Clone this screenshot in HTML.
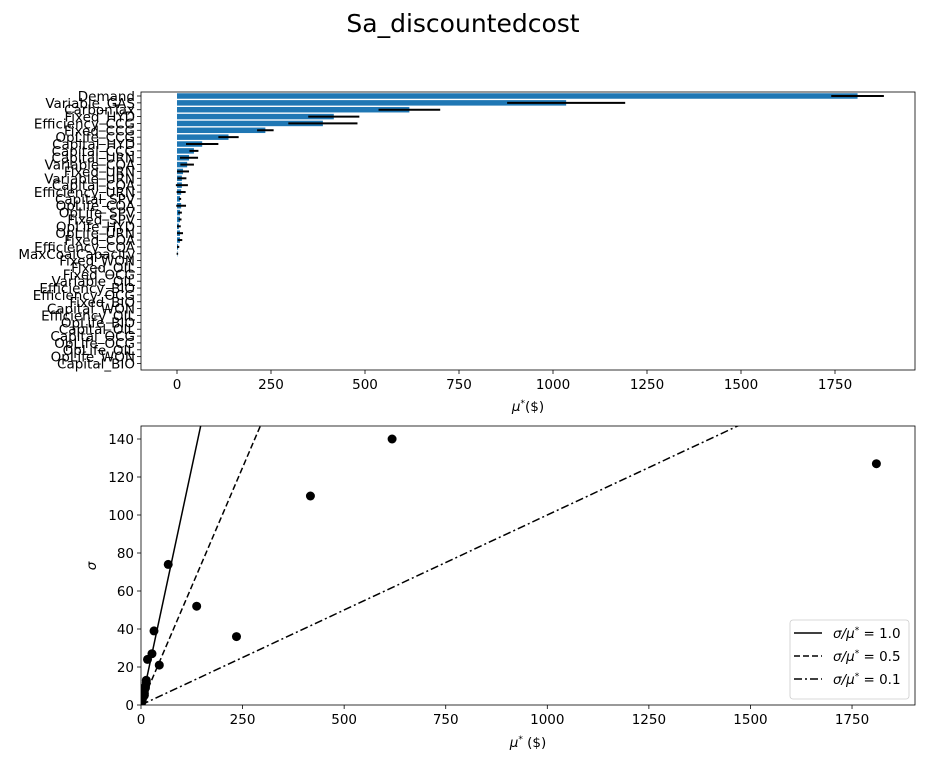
<!DOCTYPE html>
<html><head><meta charset="utf-8"><style>
body{margin:0;background:#fff}
svg{display:block;font-family:"DejaVu Sans","Liberation Sans",sans-serif}
</style></head><body>
<svg id="c" width="925" height="763" xmlns="http://www.w3.org/2000/svg">
<text x="463" y="32" font-size="25" text-anchor="middle" fill="#000">Sa_discountedcost</text>
<g id="top"></g>
<g id="bot"></g>
</svg>
<script>
const params=["Demand","Variable_GAS","CarbonTax","Fixed_HYD","Efficiency_CCG","Fixed_CCG","OpLife_CCG","Capital_HYD","Capital_CCG","Capital_URN","Variable_COA","Fixed_URN","Variable_URN","Capital_COA","Efficiency_URN","Capital_SPV","OpLife_COA","OpLife_SPV","Fixed_SPV","OpLife_HYD","OpLife_URN","Fixed_COA","Efficiency_COA","MaxCoalCapacity","Fixed_WON","Fixed_OIL","Fixed_OCG","Variable_OIL","Efficiency_BIO","Efficiency_OCG","Fixed_BIO","Capital_WON","Efficiency_OIL","OpLife_BIO","Capital_OIL","Capital_OCG","OpLife_OCG","OpLife_OIL","OpLife_WON","Capital_BIO"];
const muStar=[1810,1035,618,417,388,235,137,67,45,32,27,16,13,13,11,8,11,8,8,5,8,8,3,1,0,0,0,0,0,0,0,0,0,0,0,0,0,0,0,0];
const muConf=[70,157,82,68,92,22,27,43,12,24,18,16,12,16,12,3,13,5,4,5,8,6,3,2,0,0,0,0,0,0,0,0,0,0,0,0,0,0,0,0];
const sigma=[127,250,140,110,200,36,52,74,21,39,27,24,13,12,10,6,9,7,5,4,6,5,2,1,0,0,0,0,0,0,0,0,0,0,0,0,0,0,0,0];
const xTicksTop=[0,250,500,750,1000,1250,1500,1750];
const xTicksBot=[0,250,500,750,1000,1250,1500,1750];
const yTicksBot=[0,20,40,60,80,100,120,140];
const ratios=[1.0,0.5,0.1];
const ratioDash=["","6,3","8,3,2,3"];

const NS="http://www.w3.org/2000/svg";
function mk(p,t,a){const e=document.createElementNS(NS,t);for(const k in a)e.setAttribute(k,a[k]);p.appendChild(e);return e;}
const FS=13.5;

// top chart
const T=document.getElementById('top');
const tL=141,tR=915,tT=92,tB=370;
const txs=v=>177+v*0.376;
const step=(363.5-96)/(params.length-1);
const ty=i=>96+i*step;
params.forEach((p,i)=>{
  const b=mk(T,'rect',{x:txs(0),y:ty(i)-step*0.4,width:Math.max(0,txs(muStar[i])-txs(0)),height:step*0.8,fill:'#1f77b4'});
  
  
  if(muConf[i]>0){
    const e=mk(T,'line',{x1:txs(muStar[i]-muConf[i]),x2:txs(muStar[i]+muConf[i]),y1:ty(i),y2:ty(i),stroke:'#000','stroke-width':2});
    
    
  }
  mk(T,'line',{x1:tL-4,x2:tL,y1:ty(i),y2:ty(i),stroke:'#000','stroke-width':0.8});
  const l=mk(T,'text',{x:tL-6,y:ty(i)+5,'font-size':FS,'text-anchor':'end',fill:'#000'});
  l.textContent=p;
  
  
});
xTicksTop.forEach(v=>{
  mk(T,'line',{x1:txs(v),x2:txs(v),y1:tB,y2:tB+4,stroke:'#000','stroke-width':0.8});
  const l=mk(T,'text',{x:txs(v),y:tB+19,'font-size':FS,'text-anchor':'middle',fill:'#000'});
  l.textContent=v;
  
  
});
mk(T,'rect',{x:tL,y:tT,width:tR-tL,height:tB-tT,fill:'none',stroke:'#000','stroke-width':0.8});
const tx1=mk(T,'text',{x:528,y:411,'font-size':FS,'text-anchor':'middle',fill:'#000'});
tx1.innerHTML='<tspan font-style="italic">μ</tspan><tspan dy="-5" font-size="9">*</tspan><tspan dy="5">($)</tspan>';



// bottom chart
const B=document.getElementById('bot');
const bL=141,bR=915,bT=426,bB=705;
const bx=v=>141+v*0.4063;
const by=v=>705-v*1.9;
const yMax=(bB-bT)/1.9;
const cp=mk(B,'clipPath',{id:'clipb'});mk(cp,'rect',{x:bL,y:bT,width:bR-bL,height:bB-bT});
const gl=mk(B,'g',{'clip-path':'url(#clipb)'});
ratios.forEach((r,k)=>{
  const xEnd=yMax/r*1.05;
  const ln=mk(gl,'line',{x1:bx(0),y1:by(0),x2:bx(xEnd),y2:by(xEnd*r),stroke:'#000','stroke-width':1.5,'stroke-dasharray':ratioDash[k]});
  
  
});
params.forEach((p,i)=>{
  const c=mk(gl,'circle',{cx:bx(muStar[i]),cy:by(sigma[i]),r:4.5,fill:'#000'});
  
  
});
xTicksBot.forEach(v=>{
  mk(B,'line',{x1:bx(v),x2:bx(v),y1:bB,y2:bB+4,stroke:'#000','stroke-width':0.8});
  const l=mk(B,'text',{x:bx(v),y:bB+19,'font-size':FS,'text-anchor':'middle',fill:'#000'});
  l.textContent=v;
  
  
});
yTicksBot.forEach(v=>{
  mk(B,'line',{x1:bL-4,x2:bL,y1:by(v),y2:by(v),stroke:'#000','stroke-width':0.8});
  const l=mk(B,'text',{x:bL-7,y:by(v)+5,'font-size':FS,'text-anchor':'end',fill:'#000'});
  l.textContent=v;
  
  
});
mk(B,'rect',{x:bL,y:bT,width:bR-bL,height:bB-bT,fill:'none',stroke:'#000','stroke-width':0.8});
const bx1=mk(B,'text',{x:528,y:747,'font-size':FS,'text-anchor':'middle',fill:'#000'});
bx1.innerHTML='<tspan font-style="italic">μ</tspan><tspan dy="-5" font-size="9">*</tspan><tspan dy="5"> ($)</tspan>';


const by1=mk(B,'text',{x:96,y:566,'font-size':FS,'text-anchor':'middle','font-style':'italic',fill:'#000',transform:'rotate(-90 96 566)'});
by1.textContent='σ';


// legend
const lg=mk(B,'g',{});


mk(lg,'rect',{x:790,y:620,width:119,height:79,rx:3,fill:'#fff',stroke:'#ccc','stroke-width':0.8});
ratios.forEach((r,k)=>{
  const y=633+k*23;
  mk(lg,'line',{x1:794,x2:822,y1:y,y2:y,stroke:'#000','stroke-width':1.5,'stroke-dasharray':ratioDash[k]});
  const t=mk(lg,'text',{x:833,y:y+5,'font-size':FS,fill:'#000'});
  t.innerHTML='<tspan font-style="italic">σ/μ</tspan><tspan dy="-5" font-size="9">*</tspan><tspan dy="5"> = '+r.toFixed(1)+'</tspan>';
  
  
});
</script>
</body></html>
